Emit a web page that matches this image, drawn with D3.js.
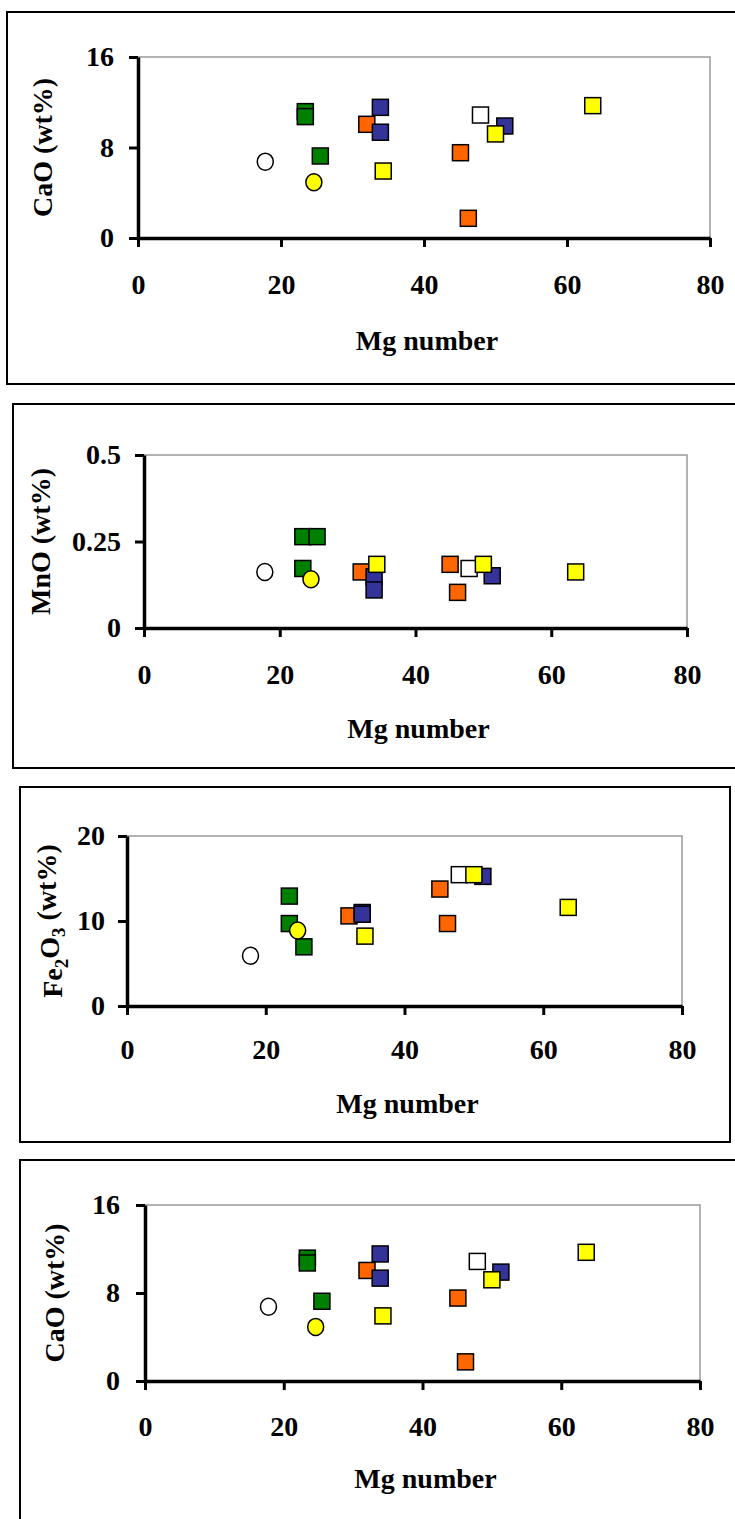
<!DOCTYPE html>
<html>
<head>
<meta charset="utf-8">
<script src="https://cdn.jsdelivr.net/npm/d3@7"></script>
<style>
  body { margin: 0; background: #fff; }
  svg { display: block; }
  text { font-family: "Liberation Serif", "Times New Roman", serif; font-weight: bold; }
</style>
</head>
<body>
<svg id="chart" width="735" height="1519"></svg>
<script>
// sample groups (marker kind), drawn in this order
var group = ["orange", "orange", "orange", "green", "green", "green", "blue", "blue", "blue",
             "whiteSq", "yellowSq", "yellowSq", "yellowSq", "whiteCircle", "yellowCircle"];

var mgNumber = [32.0, 45.1, 46.2, 23.4, 23.4, 25.5, 33.9, 33.9, 51.3, 47.9, 34.3, 50.0, 63.6, 17.8, 24.6];
var cao      = [10.05, 7.54, 1.74, 11.17, 10.73, 7.25, 11.55, 9.35, 9.9, 10.87, 5.92, 9.2, 11.7, 6.75, 4.92];
var mno      = [0.162, 0.184, 0.103, 0.264, 0.172, 0.264, 0.148, 0.110, 0.151, 0.172, 0.184, 0.184, 0.162, 0.162, 0.141];
var fe2o3    = [10.6, 13.76, 9.7, 12.93, 9.7, 6.96, 11.0, 10.8, 15.25, 15.45, 8.22, 15.45, 11.6, 5.9, 8.88];

var xTicks = [0, 20, 40, 60, 80];
var caoTicks = [0, 8, 16];
var mnoTicks = [0, 0.25, 0.5];
var feTicks = [0, 10, 20];

var fill = {
  orange: "#FF6600", green: "#008000", blue: "#333399", whiteSq: "#FFFFFF",
  yellowSq: "#FFFF00", whiteCircle: "#FFFFFF", yellowCircle: "#FFFF00"
};

var fontSize = 28;

var panels = [
  { values: cao, yTicks: caoTicks, yMax: 16, yLabel: "CaO (wt%)",
    frame: [7, 12, 740, 372], plot: [138, 57, 710, 238], yLabelX: 42, yPad: 15, xPad: 27, xLabelDy: 102 },
  { values: mno, yTicks: mnoTicks, yMax: 0.5, yLabel: "MnO (wt%)",
    frame: [13, 404, 740, 364], plot: [144, 455, 687, 628], yLabelX: 40, yPad: 14, xPad: 27, xLabelDy: 100 },
  { values: fe2o3, yTicks: feTicks, yMax: 20, yLabel: "fe",
    frame: [20, 787, 710, 355], plot: [127, 836, 682, 1006], yLabelX: 52, yPad: 13, xPad: 24, xLabelDy: 97 },
  { values: cao, yTicks: caoTicks, yMax: 16, yLabel: "CaO (wt%)",
    frame: [20, 1160, 740, 400], plot: [145, 1205, 700, 1381], yLabelX: 54, yPad: 16, xPad: 26, xLabelDy: 97 }
];

var svg = d3.select("#chart");

panels.forEach(function(p) {
  var g = svg.append("g");
  var left = p.plot[0], top = p.plot[1], right = p.plot[2], bottom = p.plot[3];

  g.append("rect")
    .attr("x", p.frame[0]).attr("y", p.frame[1])
    .attr("width", p.frame[2]).attr("height", p.frame[3])
    .attr("fill", "none").attr("stroke", "#000").attr("stroke-width", 2);

  var x = d3.scaleLinear().domain([0, 80]).range([left, right]);
  var y = d3.scaleLinear().domain([0, p.yMax]).range([bottom, top]);

  // grey top / right border of plot area
  g.append("path")
    .attr("d", "M" + left + "," + top + "H" + right + "V" + bottom)
    .attr("fill", "none").attr("stroke", "#999").attr("stroke-width", 1.5);

  var xAxis = g.append("g")
    .attr("transform", "translate(0," + bottom + ")")
    .call(d3.axisBottom(x).tickValues(xTicks).tickSize(9).tickPadding(p.xPad).tickSizeOuter(0));
  var yAxis = g.append("g")
    .attr("transform", "translate(" + left + ",0)")
    .call(d3.axisLeft(y).tickValues(p.yTicks).tickSize(9).tickPadding(p.yPad).tickSizeOuter(0)
      .tickFormat(function(d) { return String(d); }));

  [xAxis, yAxis].forEach(function(a) {
    a.select(".domain").attr("stroke", "#000").attr("stroke-width", 3.5);
    a.selectAll(".tick line").attr("stroke", "#000").attr("stroke-width", 3);
    a.selectAll(".tick text")
      .attr("fill", "#000")
      .style("font-size", fontSize + "px")
      .style("font-family", "'Liberation Serif', serif")
      .style("font-weight", "bold");
  });

  g.append("text")
    .attr("x", (left + right) / 2 + 3)
    .attr("y", bottom + p.xLabelDy)
    .attr("dy", "0.35em")
    .attr("text-anchor", "middle")
    .style("font-size", fontSize + "px")
    .text("Mg number");

  var yl = g.append("text")
    .attr("transform", "translate(" + p.yLabelX + "," + ((top + bottom) / 2) + ") rotate(-90)")
    .attr("dy", "0.35em")
    .attr("text-anchor", "middle")
    .style("font-size", fontSize + "px");
  if (p.yLabel === "fe") {
    yl.append("tspan").text("Fe");
    yl.append("tspan").attr("dy", "0.3em").style("font-size", "19px").text("2");
    yl.append("tspan").attr("dy", "-0.3em").text("O");
    yl.append("tspan").attr("dy", "0.3em").style("font-size", "19px").text("3");
    yl.append("tspan").attr("dy", "-0.3em").text(" (wt%)");
  } else {
    yl.text(p.yLabel);
  }

  var idx = d3.range(mgNumber.length);
  var squares = idx.filter(function(i) { return group[i].indexOf("Circle") < 0; });
  var circles = idx.filter(function(i) { return group[i].indexOf("Circle") >= 0; });
  var s = 16;

  g.selectAll(".sq")
    .data(squares)
    .enter()
    .append("rect")
    .attr("x", function(i) { return x(mgNumber[i]) - s / 2; })
    .attr("y", function(i) { return y(p.values[i]) - s / 2; })
    .attr("width", s).attr("height", s)
    .attr("fill", function(i) { return fill[group[i]]; })
    .attr("stroke", "#000").attr("stroke-width", 1.5);

  g.selectAll(".ci")
    .data(circles)
    .enter()
    .append("ellipse")
    .attr("cx", function(i) { return x(mgNumber[i]); })
    .attr("cy", function(i) { return y(p.values[i]); })
    .attr("rx", 8).attr("ry", 8.5)
    .attr("fill", function(i) { return fill[group[i]]; })
    .attr("stroke", "#000").attr("stroke-width", 1.5);
});
</script>
</body>
</html>
